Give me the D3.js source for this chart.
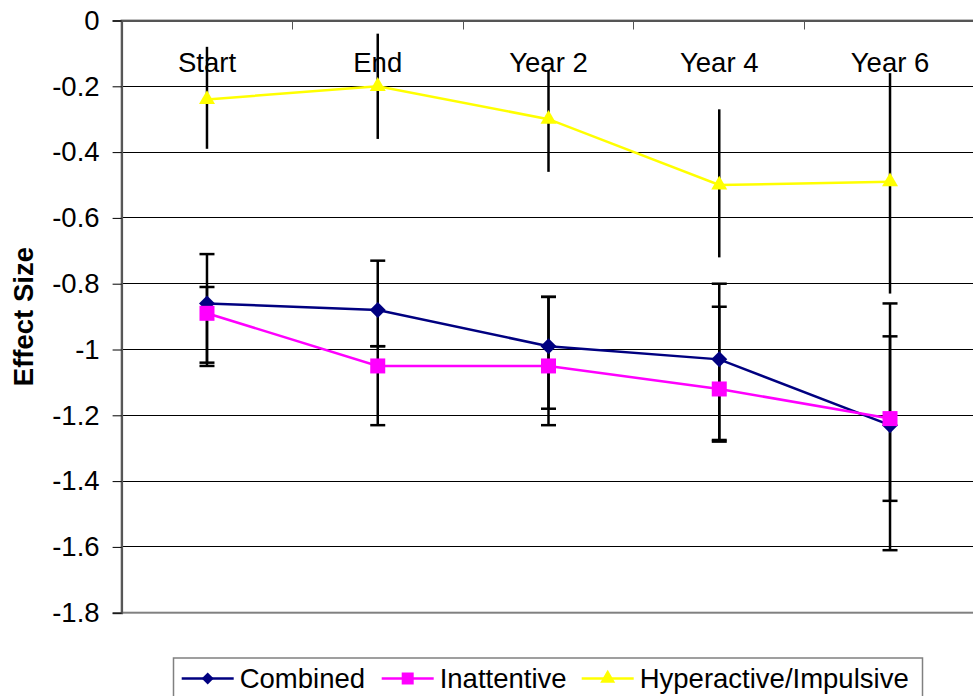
<!DOCTYPE html>
<html>
<head>
<meta charset="utf-8">
<script src="https://cdn.jsdelivr.net/npm/d3@7"></script>
<style>
  body { margin: 0; background: #fff; }
  svg { display: block; font-family: "Liberation Sans", Arial, sans-serif; }
</style>
</head>
<body>
<div class="chart"></div>
<script>
// data
let categories = ["Start", "End", "Year 2", "Year 4", "Year 6"]
let seriesNames = ["Combined", "Inattentive", "Hyperactive/Impulsive"]
let seriesColors = ["#000080", "#FF00FF", "#FFFF00"]

let combined = [-0.86, -0.88, -0.99, -1.03, -1.23]
let combinedHi = [-0.71, -0.73, -0.84, -0.80, -0.86]
let combinedLo = [-1.04, -0.99, -1.18, -1.28, -1.61]

let inattentive = [-0.89, -1.05, -1.05, -1.12, -1.21]
let inattentiveHi = [-0.81, -0.99, -0.84, -0.87, -0.96]
let inattentiveLo = [-1.05, -1.23, -1.23, -1.275, -1.46]

let hyperactive = [-0.24, -0.20, -0.30, -0.50, -0.49]
let hyperactiveHi = [-0.08, -0.04, -0.15, -0.27, -0.16]
let hyperactiveLo = [-0.39, -0.36, -0.46, -0.72, -0.83]

let yTicks = [0, -0.2, -0.4, -0.6, -0.8, -1, -1.2, -1.4, -1.6, -1.8]
let yTickLabels = ["0", "-0.2", "-0.4", "-0.6", "-0.8", "-1", "-1.2", "-1.4", "-1.6", "-1.8"]

let svgWidth = 973
let svgHeight = 696

// plot area (runs a little past the right edge, as in the original)
let plot = { left: 121.6, right: 975.4, top: 20.5, bottom: 612.7 }

let svg = d3.select('.chart')
    .append('svg')
    .attr('width', svgWidth)
    .attr('height', svgHeight)

let xScale = d3.scaleBand()
    .domain(categories)
    .range([plot.left, plot.right])

let yScale = d3.scaleLinear()
    .domain([-1.8, 0])
    .range([plot.bottom, plot.top])

let cx = d => xScale(d) + xScale.bandwidth() / 2
let crisp = v => Math.floor(v) + 0.5

// gridlines
svg.append('g')
    .selectAll('line')
    .data(yTicks.filter(t => t !== 0 && t !== -1.8))
    .join('line')
    .attr('x1', plot.left)
    .attr('x2', plot.right)
    .attr('y1', d => crisp(yScale(d)))
    .attr('y2', d => crisp(yScale(d)))
    .attr('stroke', '#000')
    .attr('stroke-width', 1)

// plot border
svg.append('rect')
    .attr('x', plot.left)
    .attr('y', plot.top)
    .attr('width', plot.right - plot.left)
    .attr('height', plot.bottom - plot.top)
    .attr('fill', 'none')
    .attr('stroke', '#808080')
    .attr('stroke-width', 2)

// y axis
let yAxis = d3.axisLeft(yScale)
    .tickValues(yTicks)
    .tickSize(9)
    .tickPadding(13)
    .tickFormat((d, i) => yTickLabels[i])

let yG = svg.append('g')
    .attr('transform', `translate(${plot.left},0)`)
    .call(yAxis)
yG.select('.domain').attr('stroke', '#555').attr('stroke-width', 2)
yG.selectAll('.tick line').attr('stroke', '#000')
yG.selectAll('text')
    .attr('font-size', 27.5)
    .attr('fill', '#000')
    .attr('font-family', '"Liberation Sans", Arial, sans-serif')

// x axis along the top (value 0), labels under it
let xAxis = d3.axisBottom(xScale)
    .tickSize(0)
    .tickPadding(32)

let xG = svg.append('g')
    .attr('transform', `translate(0,${plot.top})`)
    .call(xAxis)
xG.select('.domain').attr('stroke', '#555').attr('stroke-width', 2)
xG.selectAll('text')
    .attr('font-size', 27.5)
    .attr('fill', '#000')
    .attr('font-family', '"Liberation Sans", Arial, sans-serif')

// tick marks between categories
svg.append('g')
    .selectAll('line')
    .data(categories.slice(1))
    .join('line')
    .attr('x1', d => crisp(xScale(d)))
    .attr('x2', d => crisp(xScale(d)))
    .attr('y1', plot.top)
    .attr('y2', plot.top + 9)
    .attr('stroke', '#555')
    .attr('stroke-width', 1)

// y axis title
svg.append('text')
    .attr('transform', `translate(33,${(plot.top + plot.bottom) / 2}) rotate(-90)`)
    .attr('text-anchor', 'middle')
    .attr('font-size', 27.5)
    .attr('font-weight', 'bold')
    .text('Effect Size')

let series = [
    { name: seriesNames[0], color: seriesColors[0], values: combined, hi: combinedHi, lo: combinedLo, caps: true, symbol: 'diamond' },
    { name: seriesNames[1], color: seriesColors[1], values: inattentive, hi: inattentiveHi, lo: inattentiveLo, caps: true, symbol: 'square' },
    { name: seriesNames[2], color: seriesColors[2], values: hyperactive, hi: hyperactiveHi, lo: hyperactiveLo, caps: false, symbol: 'triangle' }
]

function markerPath(kind, s) {
    if (kind === 'diamond') return d3.symbol(d3.symbolSquare, (s / Math.SQRT2) * (s / Math.SQRT2))()
    if (kind === 'square') return d3.symbol(d3.symbolSquare, s * s)()
    return d3.symbol(d3.symbolTriangle, Math.sqrt(3) / 4 * s * s)()
}
function markerRotate(kind) { return kind === 'diamond' ? ' rotate(45)' : '' }

// error bars
let capHalf = 7.5
series.forEach(s => {
    let g = svg.append('g')
    categories.forEach((c, i) => {
        g.append('line')
            .attr('x1', cx(c)).attr('x2', cx(c))
            .attr('y1', yScale(s.hi[i])).attr('y2', yScale(s.lo[i]))
            .attr('stroke', '#000').attr('stroke-width', 2.5)
        if (s.caps) {
            [s.hi[i], s.lo[i]].forEach(v => {
                g.append('line')
                    .attr('x1', cx(c) - capHalf).attr('x2', cx(c) + capHalf)
                    .attr('y1', yScale(v)).attr('y2', yScale(v))
                    .attr('stroke', '#000').attr('stroke-width', 2.5)
            })
        }
    })
})

// lines and markers
let valueLine = d3.line()
    .x((d, i) => cx(categories[i]))
    .y(d => yScale(d))

series.forEach(s => {
    svg.append('path')
        .attr('d', valueLine(s.values))
        .attr('fill', 'none')
        .attr('stroke', s.color)
        .attr('stroke-width', 2.5)

    svg.append('g')
        .selectAll('path')
        .data(s.values)
        .join('path')
        .attr('d', markerPath(s.symbol, s.symbol === 'triangle' ? 16 : (s.symbol === 'diamond' ? 16 : 15)))
        .attr('transform', (d, i) => `translate(${cx(categories[i])},${yScale(d)})` + markerRotate(s.symbol))
        .attr('fill', s.color)
})

// legend
let legend = svg.append('g')
legend.append('rect')
    .attr('x', 173.5)
    .attr('y', 658)
    .attr('width', 749)
    .attr('height', 60)
    .attr('fill', '#fff')
    .attr('stroke', '#808080')
    .attr('stroke-width', 1.5)

let legendX = [181.7, 381.7, 581.7]
let legendY = 678.5
series.forEach((s, i) => {
    let x0 = legendX[i]
    legend.append('line')
        .attr('x1', x0).attr('x2', x0 + 52)
        .attr('y1', legendY).attr('y2', legendY)
        .attr('stroke', s.color).attr('stroke-width', 2.5)
    legend.append('path')
        .attr('d', markerPath(s.symbol, s.symbol === 'diamond' ? 12 : (s.symbol === 'square' ? 12 : 15)))
        .attr('transform', `translate(${x0 + 26},${legendY})` + markerRotate(s.symbol))
        .attr('fill', s.color)
    legend.append('text')
        .attr('x', x0 + 58)
        .attr('y', 687.5)
        .attr('font-size', 27.5)
        .text(s.name)
})
</script>
</body>
</html>
